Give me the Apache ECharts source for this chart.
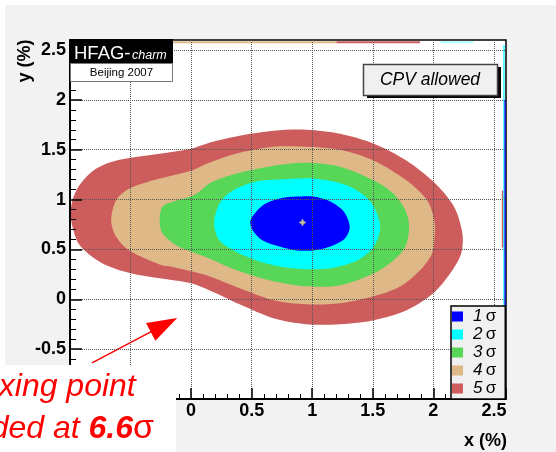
<!DOCTYPE html>
<html>
<head>
<meta charset="utf-8">
<script src="https://cdn.jsdelivr.net/npm/echarts@6/dist/echarts.min.js"></script>
<style>html,body{margin:0;padding:0;background:#fff}#c{width:556px;height:452px}</style>
</head>
<body>
<div id="c"></div>
<script>
// ---- data (units: %) ----
const xRange = [-1, 2.6];
const yRange = [-1, 2.6];
const tickStep = 0.5;
const legendNames = ['1σ', '2σ', '3σ', '4σ', '5σ'];
const sigmaColors = ['#0000ff', '#00ffff', '#58d658', '#deb887', '#cd5c5c'];

const sigma5 = [[-0.98,0.99],[-0.93,1.13],[-0.82,1.28],[-0.68,1.37],[-0.5,1.42],[-0.26,1.46],[0,1.51],[0.15,1.57],[0.40,1.64],[0.68,1.69],[0.95,1.70],[1.23,1.66],[1.51,1.56],[1.78,1.39],[2.0,1.18],[2.17,0.93],[2.24,0.66],[2.23,0.46],[2.14,0.26],[2.0,0.06],[1.78,-0.11],[1.51,-0.21],[1.23,-0.25],[0.95,-0.25],[0.68,-0.19],[0.40,-0.05],[0.15,0.09],[0,0.16],[-0.26,0.21],[-0.5,0.26],[-0.68,0.33],[-0.82,0.43],[-0.93,0.56],[-0.98,0.73],[-0.995,0.86]];
const sigma4 = [[-0.66,0.79],[-0.62,0.99],[-0.51,1.11],[-0.26,1.21],[0,1.29],[0.15,1.37],[0.40,1.47],[0.68,1.53],[0.95,1.53],[1.23,1.50],[1.51,1.39],[1.78,1.19],[1.95,0.99],[2.01,0.78],[2.01,0.62],[1.99,0.46],[1.89,0.29],[1.73,0.13],[1.51,0.03],[1.23,-0.04],[0.95,-0.05],[0.68,-0.01],[0.40,0.11],[0.15,0.23],[0,0.28],[-0.18,0.33],[-0.26,0.35],[-0.51,0.49],[-0.62,0.63]];
const sigma3 = [[-0.26,0.78],[-0.235,0.93],[-0.12,0.99],[0,1.03],[0.07,1.08],[0.15,1.16],[0.29,1.23],[0.40,1.27],[0.68,1.34],[0.95,1.37],[1.23,1.33],[1.51,1.19],[1.67,1.06],[1.77,0.89],[1.80,0.73],[1.77,0.53],[1.67,0.39],[1.51,0.26],[1.23,0.14],[0.95,0.13],[0.68,0.18],[0.40,0.28],[0.15,0.41],[0,0.48],[-0.12,0.54],[-0.235,0.66]];
const sigma2 = [[0.19,0.76],[0.235,0.96],[0.345,1.09],[0.54,1.18],[0.73,1.20],[1.01,1.21],[1.29,1.14],[1.48,0.98],[1.56,0.74],[1.51,0.53],[1.37,0.39],[1.15,0.31],[1.01,0.30],[0.84,0.31],[0.62,0.36],[0.40,0.46],[0.235,0.59]];
const sigma1 = [[0.49,0.79],[0.59,0.94],[0.73,1.01],[0.87,1.03],[1.01,1.03],[1.15,0.98],[1.26,0.88],[1.31,0.73],[1.27,0.61],[1.15,0.53],[1.01,0.49],[0.87,0.49],[0.73,0.53],[0.59,0.59],[0.51,0.69]];
const bestFit = [[0.92, 0.77]];

// contour fragments along the plot edges
const edgeBlue = [[2.592,-1],[2.592,2.0]];
const edgeCyan = [[2.583,-1],[2.583,2.55]];
const edgeRed = [[2.572,0.52],[2.572,1.09]];
const topTan = [[-1,2.578],[1.2,2.578]];
const topRed = [[1.2,2.578],[1.89,2.578]];
const topCyan = [[2.06,2.578],[2.33,2.578]];

// annotation arrow (data coordinates)
const arrowFrom = [-0.818, -0.637];
const arrowTo = [-0.224, -0.257];

const FONT = "'Liberation Sans', Arial, Helvetica, sans-serif";

function contour(name, pts, color) {
  return {
    type: 'custom', name: name, coordinateSystem: 'cartesian2d',
    data: pts, itemStyle: { color: color }, silent: true, z: 2,
    renderItem: function (params, api) {
      if (params.dataIndex !== 0) return null;
      return { type: 'polygon', shape: { points: pts.map(function (p) { return api.coord(p); }), smooth: 0.3 },
               style: { fill: color } };
    }
  };
}
function edgeLine(pts, color, w) {
  return { type: 'line', data: pts, showSymbol: false, silent: true, z: 3,
           lineStyle: { color: color, width: w }, animation: false };
}

function axisCfg(range, majorLen, minorLen) {
  return {
    type: 'value', min: range[0], max: range[1], interval: tickStep, z: 10,
    axisLine: { show: true, onZero: false, lineStyle: { color: '#000', width: 2 } },
    axisTick: { show: true, inside: true, length: majorLen, lineStyle: { color: '#000', width: 1.5 } },
    minorTick: { show: true, splitNumber: 5, length: minorLen, lineStyle: { color: '#000', width: 1 } },
    splitLine: { show: true, showMinLine: false, showMaxLine: false, lineStyle: { color: '#555', width: 1, type: [1, 1] } },
    axisLabel: { show: true, showMaxLabel: false, fontSize: 18, fontWeight: 'bold', color: '#000', fontFamily: FONT,
                 formatter: function (v) { return String(Math.round(v * 10) / 10); } }
  };
}

const xAxis = axisCfg(xRange, 11, 5); xAxis.axisLabel.margin = 3;
const yAxis = axisCfg(yRange, 12, 6); yAxis.axisLabel.margin = 4;

const chart = echarts.init(document.getElementById('c'), null, { renderer: 'canvas' });
chart.setOption({
  animation: false,
  backgroundColor: '#f2f2f2',
  grid: { left: 70, top: 40, width: 436, height: 359, show: true, backgroundColor: '#fff', borderColor: '#000', borderWidth: 1.5 },
  xAxis: xAxis,
  yAxis: yAxis,
  legend: {
    data: legendNames, orient: 'vertical', left: 451, bottom: 53, z: 20,
    icon: 'rect', itemWidth: 11, itemHeight: 10, itemGap: 1,
    padding: [2, 9, 2, 1], backgroundColor: '#f0f0f0', borderColor: '#000', borderWidth: 1.5, borderRadius: 0,
    selectedMode: false,
    formatter: function (n) { return '{d|' + n.charAt(0) + '} {s|σ}'; },
    textStyle: { lineHeight: 14, rich: {
      d: { fontSize: 17, fontStyle: 'italic', fontFamily: FONT, color: '#000', lineHeight: 14, padding: [0, 0, 0, 5] },
      s: { fontSize: 17, fontFamily: FONT, color: '#000', lineHeight: 14 } } }
  },
  series: [
    contour(legendNames[4], sigma5, sigmaColors[4]),
    contour(legendNames[3], sigma4, sigmaColors[3]),
    contour(legendNames[2], sigma3, sigmaColors[2]),
    contour(legendNames[1], sigma2, sigmaColors[1]),
    contour(legendNames[0], sigma1, sigmaColors[0]),
    edgeLine(edgeRed, '#cd5c5c', 1.5),
    edgeLine(edgeCyan, '#00ffff', 1.2),
    edgeLine(edgeBlue, '#0000ff', 1.2),
    edgeLine(topTan, '#deb887', 2),
    edgeLine(topRed, '#cd5c5c', 2),
    edgeLine(topCyan, '#aaffff', 2),
    { type: 'scatter', data: bestFit, symbol: 'path://M2,0h2v2h2v2h-2v2h-2v-2h-2v-2h2z', symbolSize: 6,
      itemStyle: { color: '#ffff66' }, silent: true, z: 4 },
    { type: 'line', data: [], silent: true, z: 12,
      markLine: { silent: true, animation: false, symbol: ['none', 'triangle'], label: { show: false },
        lineStyle: { color: '#ff0000', width: 1.5, type: 'solid' },
        emphasis: { disabled: true },
        data: [[{ coord: arrowFrom, symbol: 'none' }, { coord: arrowTo, symbol: 'triangle', symbolSize: [20, 30] }]] } }
  ],
  graphic: [
    { type: 'rect', z: 100, shape: { x: 0, y: 0, width: 556, height: 5 }, style: { fill: '#fff' } },
    { type: 'rect', z: 100, shape: { x: 0, y: 0, width: 5, height: 452 }, style: { fill: '#fff' } },
    // HFAG label
    { type: 'rect', z: 100, shape: { x: 70, y: 39, width: 103, height: 24 }, style: { fill: '#000' } },
    { type: 'text', z: 101, x: 74, y: 54, style: { text: 'HFAG-', fill: '#fff', font: '18.5px ' + FONT, verticalAlign: 'middle' } },
    { type: 'text', z: 101, x: 132, y: 56, style: { text: 'charm', fill: '#fff', font: 'italic 12.5px ' + FONT, verticalAlign: 'middle' } },
    { type: 'rect', z: 100, shape: { x: 70.5, y: 63.5, width: 102, height: 18 }, style: { fill: '#fff', stroke: '#777', lineWidth: 1 } },
    { type: 'text', z: 101, x: 121.5, y: 73, style: { text: 'Beijing 2007', fill: '#000', font: '11.5px ' + FONT, align: 'center', verticalAlign: 'middle' } },
    // CPV allowed box
    { type: 'rect', z: 100, shape: { x: 367, y: 67, width: 134, height: 31 }, style: { fill: '#000' } },
    { type: 'rect', z: 101, shape: { x: 363.5, y: 64.5, width: 134, height: 31 }, style: { fill: '#f0f0f0', stroke: '#444', lineWidth: 1.5 } },
    { type: 'text', z: 102, x: 430, y: 80, style: { text: 'CPV allowed', fill: '#000', font: 'italic 17.5px ' + FONT, align: 'center', verticalAlign: 'middle' } },
    // axis titles
    { type: 'text', z: 100, x: 507, y: 441, style: { text: 'x (%)', fill: '#000', font: 'bold 18px ' + FONT, align: 'right', verticalAlign: 'middle' } },
    { type: 'text', z: 100, x: 25, y: 61, rotation: Math.PI / 2, style: { text: 'y (%)', fill: '#000', font: 'bold 18px ' + FONT, align: 'center', verticalAlign: 'middle' } },
    // annotation text box
    { type: 'rect', z: 100, shape: { x: 0, y: 365, width: 176, height: 87 }, style: { fill: '#fff' } },
    { type: 'text', z: 101, x: -35, y: 387, style: { text: 'Mixing point', fill: '#ff0000', font: 'italic 32px ' + FONT, verticalAlign: 'middle' } },
    { type: 'text', z: 101, x: -84, y: 429, style: { text: '{a|excluded at }{b|6.6}{c|σ}', verticalAlign: 'middle',
        rich: { a: { fill: '#ff0000', fontSize: 32, fontStyle: 'italic', fontFamily: FONT },
                b: { fill: '#ff0000', fontSize: 32, fontStyle: 'italic', fontWeight: 'bold', fontFamily: FONT },
                c: { fill: '#ff0000', fontSize: 34, fontFamily: FONT } } } }
  ]
});
</script>
</body>
</html>
